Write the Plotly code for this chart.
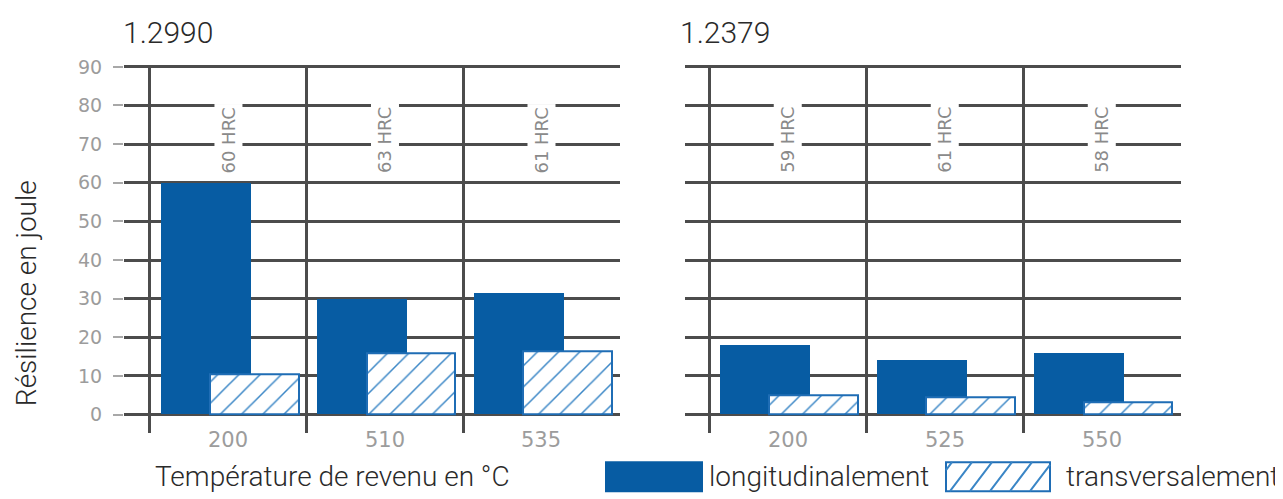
import plotly.graph_objects as go

# ---------------- data ----------------
temps_1 = ["200", "510", "535"]
long_1 = [60, 30, 31.5]
trans_1 = [10.5, 16, 16.5]
hrc_1 = ["60 HRC", "63 HRC", "61 HRC"]

temps_2 = ["200", "525", "550"]
long_2 = [18, 14, 16]
trans_2 = [5, 4.6, 3.2]
hrc_2 = ["59 HRC", "61 HRC", "58 HRC"]

titles = ["1.2990", "1.2379"]
y_ticks = [0, 10, 20, 30, 40, 50, 60, 70, 80, 90]
legend_names = ["longitudinalement", "transversalement"]
y_title = "Résilience en joule"
x_title = "Température de revenu en °C"

# ---------------- style ----------------
W, H = 1283, 499
OFFX = 8          # page body margin (x)
OFFY = 8          # page body margin (y)
Y0, YS = 10, 0.98  # observed picture transform in y
BLUE = "#075ca3"
HATCH = "#3a86c6"
EDGE = "#1f6db5"
GRID = "#4c4c4c"
TICKGRAY = "#9c9c9c"
LIGHT = "Roboto"
WIDE = "DejaVu Sans"
TXT = "#2a2a2a"


def px(x):
    return (x - OFFX) / W


def py(y):
    page = (y - Y0) / YS
    return 1 - (page - OFFY) / H


fig = go.Figure()

panels = [
    dict(temps=temps_1, lon=long_1, tra=trans_1, hrc=hrc_1, xa="x", ya="y"),
    dict(temps=temps_2, lon=long_2, tra=trans_2, hrc=hrc_2, xa="x2", ya="y2"),
]

for p in panels:
    xs = list(range(len(p["temps"])))
    fig.add_trace(go.Bar(
        x=xs, y=p["lon"], xaxis=p["xa"], yaxis=p["ya"],
        offset=-0.43, width=0.575,
        marker=dict(color=BLUE, line=dict(width=0)),
        showlegend=False, name=legend_names[0],
    ))
    fig.add_trace(go.Bar(
        x=xs, y=p["tra"], xaxis=p["xa"], yaxis=p["ya"],
        offset=-0.115, width=0.565,
        marker=dict(color="white", line=dict(color=EDGE, width=2),
                    pattern=dict(shape="/", fgcolor=HATCH, bgcolor="white",
                                 size=15, solidity=0.1, fillmode="replace")),
        showlegend=False, name=legend_names[1],
    ))
    for i, t in enumerate(p["hrc"]):
        fig.add_annotation(x=i, y=71, xref=p["xa"], yref=p["ya"], text=t,
                           textangle=-90, showarrow=False, bgcolor="white",
                           borderpad=3, font=dict(family=WIDE, size=18, color="#8a8a8a"))
    for i, t in enumerate(p["temps"]):
        fig.add_annotation(x=i, y=py(440), xref=p["xa"], yref="paper", text=t,
                           showarrow=False, yanchor="middle",
                           font=dict(family=WIDE, size=21, color=TICKGRAY))

# y scale: 0 at 414.5 px, 90 at 66.7 px; plot spans 65..433 px
unit = (414.5 - 66.7) / 90
y_top = 90 + (66.7 - 65) / unit
y_bot = -(433 - 414.5) / unit
y_dom = [py(433), py(65)]

common_x = dict(
    tickmode="array", tickvals=[0, 1, 2], ticks="", showgrid=False, zeroline=False,
    showline=False, showticklabels=False,
)

fig.update_layout(
    width=W, height=H, autosize=False,
    margin=dict(l=0, r=0, t=0, b=0),
    paper_bgcolor="white", plot_bgcolor="white",
    barmode="overlay", bargap=0,
    xaxis=dict(domain=[px(124), px(620)], range=[-0.666, 2.503],
               minor=dict(tickmode="array", tickvals=[-0.5, 0.5, 1.5], showgrid=True,
                          gridcolor=GRID, gridwidth=2.5, ticks=""),
               **common_x),
    yaxis=dict(domain=y_dom, range=[y_bot, y_top], tickmode="array", tickvals=y_ticks,
               ticks="outside", ticklen=10, tickwidth=2, tickcolor="#a8a8a8",
               showgrid=True, gridcolor=GRID, gridwidth=2.5, zeroline=False, showline=False,
               ticklabelstandoff=7,
               tickfont=dict(family=WIDE, size=19, color=TICKGRAY)),
    xaxis2=dict(domain=[px(685), px(1181)], range=[-0.653, 2.506], anchor="y2",
                minor=dict(tickmode="array", tickvals=[-0.5, 0.5, 1.5, 2.5], showgrid=True,
                           gridcolor=GRID, gridwidth=2.5, ticks=""),
                **common_x),
    yaxis2=dict(domain=y_dom, range=[y_bot, y_top], anchor="x2", tickmode="array",
                tickvals=y_ticks, showticklabels=False, ticks="",
                showgrid=True, gridcolor=GRID, gridwidth=2.5, zeroline=False, showline=False),
    showlegend=False,
)

tfont = dict(family=LIGHT, size=30, color=TXT, weight=300)
lfont = dict(family=LIGHT, size=28, color=TXT, weight=300)

# panel titles
fig.add_annotation(x=px(121), y=py(32), xref="paper", yref="paper", text=titles[0],
                   xanchor="left", yanchor="middle", showarrow=False, font=tfont)
fig.add_annotation(x=px(678), y=py(32), xref="paper", yref="paper", text=titles[1],
                   xanchor="left", yanchor="middle", showarrow=False, font=tfont)

# axis titles
fig.add_annotation(x=px(26), y=py(293), xref="paper", yref="paper", text=y_title,
                   textangle=-90, showarrow=False, xanchor="center", yanchor="middle",
                   font=dict(family=LIGHT, size=28, color=TXT, weight=300))
fig.add_annotation(x=px(332), y=py(476), xref="paper", yref="paper", text=x_title,
                   showarrow=False, xanchor="center", yanchor="middle", font=lfont)

# legend (drawn manually: large swatches)
lx0, lx1, ly0, ly1 = 605, 703, 461, 492
fig.add_shape(type="rect", xref="paper", yref="paper", x0=px(lx0), x1=px(lx1),
              y0=py(ly1), y1=py(ly0), fillcolor=BLUE, line=dict(width=0))
fig.add_annotation(x=px(707), y=py(476), xref="paper", yref="paper", text=legend_names[0],
                   showarrow=False, xanchor="left", yanchor="middle", font=lfont)

hx0, hx1, hy0, hy1 = 946, 1050, 462, 491
fig.add_shape(type="rect", xref="paper", yref="paper", x0=px(hx0), x1=px(hx1),
              y0=py(hy1), y1=py(hy0), fillcolor="white", line=dict(color=EDGE, width=2))
path = ""
step = 20
slant = 22
xx = hx0 - slant + 6
while xx < hx1:
    a0, b0 = xx, hy1
    a1, b1 = xx + slant, hy0
    if a0 < hx0:
        b0 = hy1 - (hx0 - a0) * (hy1 - hy0) / slant
        a0 = hx0
    if a1 > hx1:
        b1 = hy0 + (a1 - hx1) * (hy1 - hy0) / slant
        a1 = hx1
    if a1 > a0:
        path += f"M{px(a0)},{py(b0)} L{px(a1)},{py(b1)} "
    xx += step
fig.add_shape(type="path", xref="paper", yref="paper", path=path,
              line=dict(color=HATCH, width=2))
fig.add_annotation(x=px(1064), y=py(476), xref="paper", yref="paper", text=legend_names[1],
                   showarrow=False, xanchor="left", yanchor="middle", font=lfont)

fig.write_html("out.html")
